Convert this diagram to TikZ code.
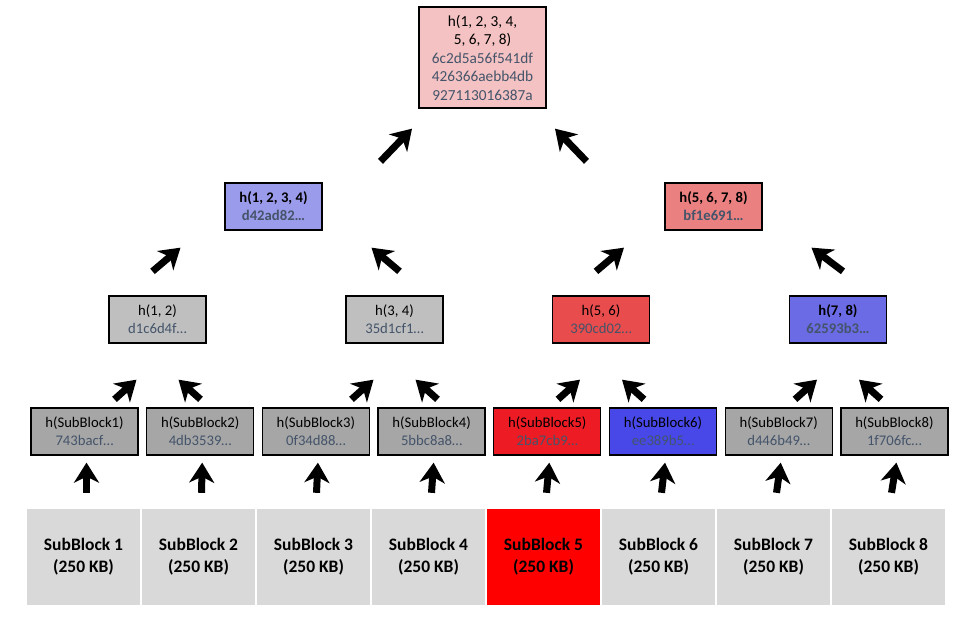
\documentclass[tikz,border=0pt]{standalone}
\usepackage{fontspec}
\setmainfont{Carlito}
\usepackage{tikz}
\usetikzlibrary{arrows.meta,calc,positioning}

\definecolor{hashtext}{HTML}{44546A}
\definecolor{blockgray}{HTML}{D9D9D9}
\definecolor{leafgray}{HTML}{A6A6A6}
\definecolor{midgray}{HTML}{BFBFBF}
\definecolor{leafred}{HTML}{ED1C24}
\definecolor{leafblue}{HTML}{4848E8}
\definecolor{midred}{HTML}{E84C4C}
\definecolor{midblue}{HTML}{6B6BE6}
\definecolor{upblue}{HTML}{9B9BEB}
\definecolor{upred}{HTML}{EA8080}
\definecolor{rootpink}{HTML}{F4C2C2}

\begin{document}
\begin{tikzpicture}[x=1pt,y=-1pt,
    hashbox/.style={draw=black, line width=1.3pt, inner sep=0pt, align=center,
                    minimum height=47pt, font=\fontsize{14.7}{18}\selectfont},
    blockbox/.style={inner sep=0pt, align=center, minimum width=113pt,
                     minimum height=96pt, font=\fontsize{17.5}{22}\selectfont\bfseries},
    cursor/.style={line width=7pt, line cap=butt,
                   -{Stealth[length=20pt,width=25pt,inset=6pt]}}
    ]
    \useasboundingbox (0,0) rectangle (960,616);

    % SubBlocks ---------------------------------------------------------
    \foreach \i/\col in {1/blockgray,2/blockgray,3/blockgray,4/blockgray,
                         5/red,6/blockgray,7/blockgray,8/blockgray}
        \node[blockbox, fill=\col] (sb\i) at ({83.5+115*(\i-1)}, 557)
            {SubBlock \i\\(250 KB)};

    % leaf hashes -------------------------------------------------------
    \foreach \i/\hash/\col in {1/743bacf/leafgray, 2/4db3539/leafgray,
                               3/0f34d88/leafgray, 4/5bbc8a8/leafgray,
                               5/2ba7cb9/leafred,  6/ee389b5/leafblue,
                               7/d446b49/leafgray, 8/1f706fc/leafgray}
        \node[hashbox, minimum width=107pt, fill=\col] (hs\i)
            at ({84.5+115.7*(\i-1)}, 431.5)
            {h(SubBlock\i)\\\textcolor{hashtext}{\hash…}};

    % pair hashes -------------------------------------------------------
    \node[hashbox, minimum width=97pt, fill=midgray] (h12) at (157.5,319.5)
        {h(1, 2)\\\textcolor{hashtext}{d1c6d4f…}};
    \node[hashbox, minimum width=97pt, fill=midgray] (h34) at (394.5,319.5)
        {h(3, 4)\\\textcolor{hashtext}{35d1cf1…}};
    \node[hashbox, minimum width=97pt, fill=midred] (h56) at (601,319.5)
        {h(5, 6)\\\textcolor{hashtext}{390cd02…}};
    \node[hashbox, minimum width=97pt, fill=midblue, font=\fontsize{14.7}{18}\selectfont\bfseries]
        (h78) at (838,319.5)
        {h(7, 8)\\\textcolor{hashtext}{62593b3…}};

    % upper hashes ------------------------------------------------------
    \node[hashbox, minimum width=97pt, fill=upblue, font=\fontsize{14.7}{18}\selectfont\bfseries]
        (h1234) at (273.5,206.5)
        {h(1, 2, 3, 4)\\\textcolor{hashtext}{d42ad82…}};
    \node[hashbox, minimum width=97pt, fill=upred, font=\fontsize{14.7}{18}\selectfont\bfseries]
        (h5678) at (713.5,206.5)
        {h(5, 6, 7, 8)\\\textcolor{hashtext}{bf1e691…}};

    % root --------------------------------------------------------------
    \node[hashbox, minimum width=127pt, minimum height=101pt, fill=rootpink,
          font=\fontsize{15.3}{18.5}\selectfont]
        (root) at (482.5,57.5)
        {h(1, 2, 3, 4,\\5, 6, 7, 8)\\\textcolor{hashtext}{6c2d5a56f541df}\\
         \textcolor{hashtext}{426366aebb4db}\\\textcolor{hashtext}{927113016387a}};

    % arrows ------------------------------------------------------------
    \foreach \i in {1,...,8}
        \draw[cursor] ($(sb\i.north)+(3,-16)$) -- ($(hs\i.south)+(2,7)$);
    \foreach \l/\r/\p in {1/2/h12, 3/4/h34, 5/6/h56, 7/8/h78}{
        \draw[cursor] ($(hs\l.north -| \p.south)+(-43,-8)$) -- ($(\p.south)+(-21,36)$);
        \draw[cursor] ($(hs\r.north -| \p.south)+(43,-8)$)  -- ($(\p.south)+(21,36)$);
    }
    \draw[cursor] ($(h12.north)+(-5,-24)$) -- ($(h1234.south)+(-93,17)$);
    \draw[cursor] ($(h34.north)+(5,-24)$)  -- ($(h1234.south)+(98,17)$);
    \draw[cursor] ($(h56.north)+(-5,-24)$) -- ($(h5678.south)+(-89.5,17)$);
    \draw[cursor] ($(h78.north)+(5,-24)$)  -- ($(h5678.south)+(98,17)$);
    \draw[cursor] ($(h1234.north)+(107,-21)$) -- ($(root.south)+(-70.5,20)$);
    \draw[cursor] ($(h5678.north)+(-127,-21)$) -- ($(root.south)+(72.5,20)$);
\end{tikzpicture}
\end{document}
